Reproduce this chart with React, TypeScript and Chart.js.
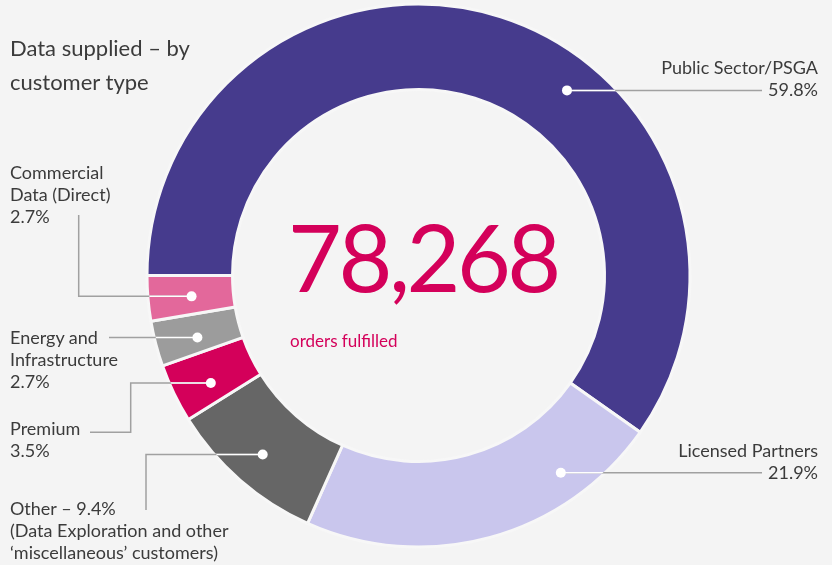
import React, { useEffect, useRef } from "react";
import { Chart, registerables } from "chart.js";

Chart.register(...registerables);

// ---- data ----
const categories = [
  "Public Sector/PSGA",
  "Licensed Partners",
  "Other",
  "Premium",
  "Energy and Infrastructure",
  "Commercial Data (Direct)",
];
const shares = [59.8, 21.9, 9.4, 3.5, 2.7, 2.7];
const colors = ["#463b8d", "#c9c6ed", "#666666", "#d4005a", "#9c9c9c", "#e3689b"];
const totalOrders = "78,268";
const centerCaption = "orders fulfilled";
const title = ["Data supplied \u2013 by", "customer type"];
const labelLines = [
  ["Public Sector/PSGA", "59.8%"],
  ["Licensed Partners", "21.9%"],
  ["Other \u2013 9.4%", "(Data Exploration and other", "\u2018miscellaneous\u2019 customers)"],
  ["Premium", "3.5%"],
  ["Energy and", "Infrastructure", "2.7%"],
  ["Commercial", "Data (Direct)", "2.7%"],
];

// ---- layout (positions / styles) ----
const W = 832;
const H = 565;
const BG = "#f4f4f4";
const TEXT = "#3b3b3b";
const ACCENT = "#d4005a";
const FONT = "Lato, 'Open Sans', sans-serif";
const dotAngleFrac = [0.598, 0.24, 0.5, 0.37, 0.39, 0.46];
const dotRadiusFrac = [0.6, 0.67, 0.6, 0.56, 0.51, 0.49];
// leader elbows after the dot; null y = same y as the dot
const leaderPaths: Array<Array<[number, number | null]>> = [
  [[762, null]],
  [[762, null]],
  [[146, null], [146, 510]],
  [[130.7, null], [130.7, 432.3], [90, 432.3]],
  [[109, null]],
  [[78.7, null], [78.7, 215]],
];
const labelBoxes: Array<{ top: number; left?: number; right?: number; align: "left" | "right" }> = [
  { top: 56, right: 14, align: "right" },
  { top: 438.7, right: 14, align: "right" },
  { top: 497, left: 10, align: "left" },
  { top: 417, left: 10, align: "left" },
  { top: 325.5, left: 10, align: "left" },
  { top: 161, left: 10, align: "left" },
];

const leaderPlugin = {
  id: "leaders",
  afterDatasetsDraw(chart: any) {
    const ctx = chart.ctx as CanvasRenderingContext2D;
    const meta = chart.getDatasetMeta(0);
    meta.data.forEach((el: any, i: number) => {
      const p = el.getProps(["x", "y", "startAngle", "endAngle", "innerRadius", "outerRadius"], true);
      const a = p.startAngle + dotAngleFrac[i] * (p.endAngle - p.startAngle);
      const r = p.innerRadius + dotRadiusFrac[i] * (p.outerRadius - p.innerRadius);
      const dx = p.x + Math.cos(a) * r;
      const dy = p.y + Math.sin(a) * r;
      const pts = leaderPaths[i].map(([x, y]) => [x, y === null ? dy : y]);
      const stroke = (color: string) => {
        ctx.beginPath();
        ctx.moveTo(dx, dy);
        pts.forEach(([x, y]) => ctx.lineTo(x, y));
        ctx.strokeStyle = color;
        ctx.lineWidth = 1.5;
        ctx.stroke();
      };
      ctx.save();
      stroke("#a0a0a0");
      ctx.beginPath();
      ctx.arc(p.x, p.y, p.outerRadius - 1.5, 0, Math.PI * 2);
      ctx.arc(p.x, p.y, p.innerRadius + 1.5, 0, Math.PI * 2);
      ctx.clip("evenodd");
      stroke("#ffffff");
      ctx.restore();
      ctx.beginPath();
      ctx.arc(dx, dy, 5, 0, Math.PI * 2);
      ctx.fillStyle = "#ffffff";
      ctx.fill();
    });
  },
};

export default function App() {
  const ref = useRef<HTMLCanvasElement | null>(null);
  useEffect(() => {
    document.body.style.margin = "0";
    const chart = new Chart(ref.current as HTMLCanvasElement, {
      type: "doughnut",
      data: {
        labels: categories,
        datasets: [
          {
            data: shares,
            backgroundColor: colors,
            borderColor: "#f7f7f7",
            borderWidth: 3,
            hoverOffset: 0,
          },
        ],
      },
      options: {
        responsive: false,
        animation: false,
        devicePixelRatio: 1,
        rotation: 270,
        radius: 271.5,
        cutout: "68.5%",
        layout: { padding: { left: 5, right: 0, top: 0, bottom: 14 } },
        plugins: { legend: { display: false }, tooltip: { enabled: false } },
        events: [],
      },
      plugins: [leaderPlugin],
    } as any);
    return () => chart.destroy();
  }, []);

  return (
    <div
      style={{
        position: "fixed",
        left: 0,
        top: 0,
        width: W,
        height: H,
        background: BG,
        fontFamily: FONT,
        color: TEXT,
        overflow: "hidden",
      }}
    >
      <canvas ref={ref} width={W} height={H} style={{ position: "absolute", left: 0, top: 0 }} />
      <div style={{ position: "absolute", left: 10, top: 30.5, fontSize: 22, lineHeight: "34px", whiteSpace: "nowrap" }}>
        {title.map((t, i) => (
          <div key={i}>{t}</div>
        ))}
      </div>
      {labelLines.map((lines, i) => {
        const b = labelBoxes[i];
        return (
          <div
            key={i}
            style={{
              position: "absolute",
              top: b.top,
              left: b.left,
              right: b.right,
              textAlign: b.align,
              fontSize: 18,
              lineHeight: "22px",
              whiteSpace: "nowrap",
            }}
          >
            {lines.map((t, j) => (
              <div key={j}>{t}</div>
            ))}
          </div>
        );
      })}
      <div
        style={{
          position: "absolute",
          left: 288,
          top: 209.5,
          fontSize: 93,
          lineHeight: "93px",
          letterSpacing: -3.5,
          color: ACCENT,
          whiteSpace: "nowrap",
        }}
      >
        {totalOrders}
      </div>
      <div
        style={{
          position: "absolute",
          left: 290,
          top: 331.6,
          fontSize: 17,
          lineHeight: "17px",
          color: ACCENT,
          whiteSpace: "nowrap",
        }}
      >
        {centerCaption}
      </div>
    </div>
  );
}
